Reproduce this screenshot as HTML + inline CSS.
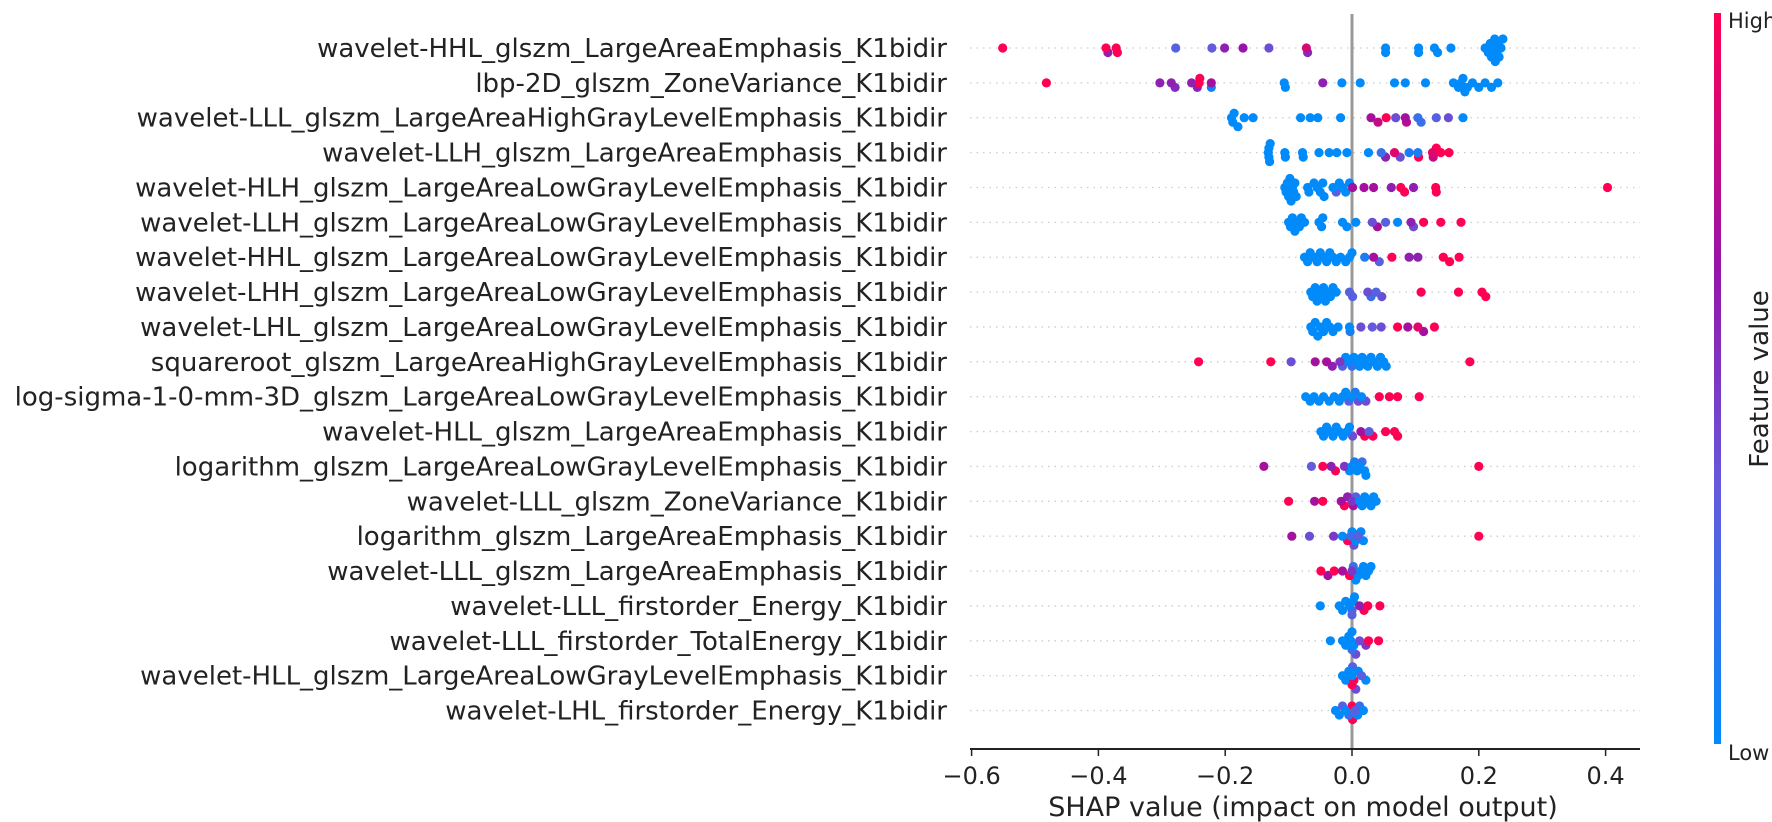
<!DOCTYPE html>
<html><head><meta charset="utf-8">
<style>
html,body{margin:0;padding:0;background:#fff;}
svg{display:block;font-family:"DejaVu Sans","Liberation Sans",sans-serif;}
</style></head>
<body>
<svg id="chart" width="1772" height="822" viewBox="0 0 1772 822">
<defs>
<linearGradient id="cbar" x1="0" y1="1" x2="0" y2="0">
<stop offset="0" stop-color="rgb(0,138,250)"/>
<stop offset="0.35" stop-color="rgb(100,90,220)"/>
<stop offset="0.65" stop-color="rgb(150,20,170)"/>
<stop offset="1" stop-color="rgb(255,0,82)"/>
</linearGradient>
</defs>
<g id="grid"></g>
<line x1="1352" y1="14" x2="1352" y2="749" stroke="#999" stroke-width="3"/>
<g id="dots"></g>
<g id="labels"></g>
<g id="xaxis"></g>
<text x="1303" y="816" font-size="27" text-anchor="middle" fill="#222">SHAP value (impact on model output)</text>
<rect x="1714" y="13" width="7" height="731" fill="url(#cbar)"/>
<text x="1728" y="28" font-size="21" fill="#222">High</text>
<text x="1728" y="760" font-size="21" fill="#222">Low</text>
<text x="1768" y="379" font-size="26" fill="#222" text-anchor="middle" transform="rotate(-90 1768 379)">Feature value</text>
</svg>
<script>
const features = [
"wavelet-HHL_glszm_LargeAreaEmphasis_K1bidir",
"lbp-2D_glszm_ZoneVariance_K1bidir",
"wavelet-LLL_glszm_LargeAreaHighGrayLevelEmphasis_K1bidir",
"wavelet-LLH_glszm_LargeAreaEmphasis_K1bidir",
"wavelet-HLH_glszm_LargeAreaLowGrayLevelEmphasis_K1bidir",
"wavelet-LLH_glszm_LargeAreaLowGrayLevelEmphasis_K1bidir",
"wavelet-HHL_glszm_LargeAreaLowGrayLevelEmphasis_K1bidir",
"wavelet-LHH_glszm_LargeAreaLowGrayLevelEmphasis_K1bidir",
"wavelet-LHL_glszm_LargeAreaLowGrayLevelEmphasis_K1bidir",
"squareroot_glszm_LargeAreaHighGrayLevelEmphasis_K1bidir",
"log-sigma-1-0-mm-3D_glszm_LargeAreaLowGrayLevelEmphasis_K1bidir",
"wavelet-HLL_glszm_LargeAreaEmphasis_K1bidir",
"logarithm_glszm_LargeAreaLowGrayLevelEmphasis_K1bidir",
"wavelet-LLL_glszm_ZoneVariance_K1bidir",
"logarithm_glszm_LargeAreaEmphasis_K1bidir",
"wavelet-LLL_glszm_LargeAreaEmphasis_K1bidir",
"wavelet-LLL_firstorder_Energy_K1bidir",
"wavelet-LLL_firstorder_TotalEnergy_K1bidir",
"wavelet-HLL_glszm_LargeAreaLowGrayLevelEmphasis_K1bidir",
"wavelet-LHL_firstorder_Energy_K1bidir"];
const xTicks = [-0.6,-0.4,-0.2,0.0,0.2,0.4];
const xTickLabels = ["\u22120.6","\u22120.4","\u22120.2","0.0","0.2","0.4"];
const shapValues = [
[-0.551,-0.388,-0.385,-0.372,-0.370,-0.278,-0.221,-0.201,-0.172,-0.131,-0.072,-0.070,0.053,0.053,0.105,0.105,0.130,0.135,0.156,0.21,0.215,0.218,0.22,0.222,0.225,0.226,0.228,0.23,0.232,0.235,0.238],
[-0.482,-0.303,-0.285,-0.279,-0.253,-0.244,-0.241,-0.240,-0.222,-0.222,-0.107,-0.105,-0.046,-0.016,0.013,0.067,0.084,0.116,0.16,0.168,0.172,0.175,0.178,0.182,0.19,0.2,0.21,0.22,0.23],
[-0.19,-0.188,-0.186,-0.18,-0.17,-0.156,-0.081,-0.066,-0.054,-0.018,0.030,0.041,0.054,0.069,0.084,0.086,0.104,0.109,0.133,0.152,0.175],
[-0.131,-0.131,-0.130,-0.132,-0.129,-0.106,-0.105,-0.078,-0.077,-0.052,-0.036,-0.024,-0.008,0.026,0.046,0.053,0.067,0.076,0.09,0.104,0.105,0.127,0.133,0.14,0.153,0.128],
[-0.106,-0.104,-0.102,-0.1,-0.098,-0.096,-0.094,-0.092,-0.09,-0.088,-0.07,-0.068,-0.06,-0.055,-0.05,-0.046,-0.044,-0.03,-0.025,-0.02,-0.015,-0.01,-0.004,0.001,0.019,0.034,0.062,0.077,0.083,0.097,0.132,0.133,0.403],
[-0.1,-0.097,-0.094,-0.09,-0.087,-0.083,-0.08,-0.075,-0.052,-0.048,-0.046,-0.015,-0.008,0.006,0.032,0.04,0.053,0.072,0.093,0.097,0.113,0.14,0.172],
[-0.075,-0.07,-0.066,-0.06,-0.055,-0.05,-0.045,-0.04,-0.035,-0.03,-0.025,-0.018,-0.01,-0.004,0.0,0.02,0.034,0.043,0.063,0.09,0.104,0.144,0.154,0.169],
[-0.065,-0.062,-0.058,-0.055,-0.052,-0.048,-0.045,-0.042,-0.038,-0.034,-0.03,-0.025,-0.004,0.001,0.025,0.03,0.038,0.047,0.109,0.168,0.205,0.211],
[-0.065,-0.062,-0.058,-0.054,-0.05,-0.045,-0.04,-0.035,-0.03,-0.022,-0.004,-0.003,0.014,0.032,0.046,0.072,0.088,0.104,0.113,0.13],
[-0.242,-0.128,-0.096,-0.058,-0.04,-0.031,-0.019,-0.015,-0.01,-0.005,0.0,0.003,0.008,0.012,0.016,0.02,0.025,0.03,0.035,0.04,0.045,0.05,0.054,0.186],
[-0.073,-0.066,-0.06,-0.052,-0.045,-0.036,-0.028,-0.02,-0.015,-0.01,-0.005,0.0,0.005,0.01,0.015,0.022,0.043,0.059,0.072,0.106],
[-0.049,-0.045,-0.04,-0.035,-0.03,-0.025,-0.02,-0.014,-0.008,-0.004,0.001,0.014,0.02,0.027,0.033,0.053,0.067,0.072],
[-0.139,-0.064,-0.046,-0.033,-0.026,-0.012,-0.004,0.0,0.004,0.008,0.012,0.016,0.02,0.022,0.2],
[-0.10,-0.059,-0.046,-0.017,-0.012,-0.007,0.0,0.002,0.006,0.012,0.016,0.02,0.025,0.03,0.034,0.038],
[-0.095,-0.067,-0.029,-0.015,-0.007,-0.002,0.0,0.003,0.006,0.01,0.014,0.018,0.2],
[-0.049,-0.038,-0.028,-0.015,-0.004,0.0,0.002,0.006,0.01,0.014,0.018,0.022,0.026,0.03],
[-0.05,-0.02,-0.015,-0.01,-0.004,0.0,0.0,0.002,0.004,0.012,0.019,0.025,0.044],
[-0.034,-0.015,-0.01,-0.005,-0.002,0.0,0.0,0.003,0.006,0.012,0.022,0.026,0.042],
[-0.015,-0.01,-0.005,0.0,0.0,0.001,0.003,0.006,0.01,0.015,0.022],
[-0.026,-0.02,-0.015,-0.01,-0.005,0.0,0.001,0.005,0.009,0.012,0.018]];
const featureLevels = [
[1,1,0.6,1,1,0.3,0.35,0.6,0.65,0.4,0.85,0.55,0,0,0,0,0,0,0,0,0,0,0,0,0,0,0,0,0,0,0],
[1,0.6,0.6,0.55,0.6,0.6,1,1,0.7,0.05,0,0,0.6,0,0,0,0,0,0,0,0,0,0,0,0,0,0,0,0],
[0,0,0,0,0,0,0,0,0,0,0.7,0.8,1,0.4,0.7,0.75,0.2,0.2,0.3,0.4,0],
[0,0,0,0,0,0,0,0,0,0,0,0,0,0,0.2,0.6,0.9,0.4,0.1,0.1,1,0.9,1,1,1,0.8],
[0,0,0,0,0,0,0,0,0,0,0,0,0,0,0,0,0,0,0.3,0,0,0,0,0.7,0.7,0.7,0.6,1,1,0.6,1,1,1],
[0,0,0,0,0,0,0,0,0,0,0,0,0,0,0.4,0.7,0.3,0,0.6,0.4,1,1,1],
[0,0,0,0,0,0,0,0,0,0,0,0,0,0,0,0.1,0.7,0.3,1,0.6,0.6,1,1,1],
[0,0,0,0,0,0,0,0,0,0,0,0,0.3,0.3,0.4,0.2,0.3,0.4,1,1,1,1],
[0,0,0,0,0,0,0,0,0,0,0,0.1,0.4,0.35,0.4,1,0.7,0.9,0.7,1],
[1,1,0.4,0.7,0.7,0.6,0.5,0.3,0,0,0.2,0,0,0,0,0,0,0,0,0,0,0,0,1],
[0,0,0,0,0,0,0,0,0,0,0.3,0,0.1,0.4,0,0.4,1,1,1,1],
[0,0,0,0,0,0,0,0,0,0,0.4,0.7,1,0.3,1,1,1,1],
[0.7,0.35,1,0.6,1,0.5,0,0,0.1,0,0,0.2,0,0,1],
[1,0.7,1,0.7,1,0.6,0.5,0.7,0.3,0,0,0,0,0,0,0],
[0.7,0.4,0.5,0,1,0.2,0,0.4,0,0.3,0,0,1],
[1,0.7,1,0.7,1,0.5,0.2,0,0,0,0,0,0,0],
[0,0,0,0,0,0.3,0.3,0,0,0.6,1,1,1],
[0,0,0,0,0,0.2,0,0,0.4,0.4,0.5,1,1],
[0,0,0,0,1,0.3,1,0.4,0,0.3,0],
[0,0,0.3,0,0.2,1,1,0.3,0,0.2,0]];

const NS = "http://www.w3.org/2000/svg";
const x0 = 972, x1 = 1606;
function xScale(v){ return 1352 + v * (x1 - x0); }
function yRow(i){ return 48 + i * 34.87; }
function colorFor(t){
  const stops=[[0,[0,138,250]],[0.35,[100,90,220]],[0.65,[150,20,170]],[1,[255,0,82]]];
  for(let k=0;k<stops.length-1;k++){
    const a=stops[k],b=stops[k+1];
    if(t<=b[0]){const f=(t-a[0])/(b[0]-a[0]);
      return "rgb("+a[1].map((c,j)=>Math.round(c+(b[1][j]-c)*f)).join(",")+")";}
  }
  return "rgb(255,0,82)";
}
const grid=document.getElementById("grid"), dots=document.getElementById("dots"), labels=document.getElementById("labels"), xaxis=document.getElementById("xaxis");
features.forEach((name,i)=>{
  const y=yRow(i);
  const gl=document.createElementNS(NS,"line");
  gl.setAttribute("x1",970);gl.setAttribute("x2",1640);gl.setAttribute("y1",y);gl.setAttribute("y2",y);
  gl.setAttribute("stroke","#ccc");gl.setAttribute("stroke-width","1.3");gl.setAttribute("stroke-dasharray","1.5 5");
  
  
  grid.appendChild(gl);
  const t=document.createElementNS(NS,"text");
  t.setAttribute("x",947);t.setAttribute("y",y+9);t.setAttribute("text-anchor","end");
  t.setAttribute("font-size","26");t.setAttribute("fill","#222");t.textContent=name;
  
  
  labels.appendChild(t);
  const vals=shapValues[i], lv=featureLevels[i];
  const idx=vals.map((v,k)=>k).sort((a,b)=>vals[a]-vals[b]);
  const placed=[];
  const step=4.5, offs=[0,1,-1,2,-2,3,-3];
  idx.forEach(k=>{
    const px=xScale(vals[k]);
    let chosen=offs[offs.length-1];
    for(const o of offs){
      if(!placed.some(p=>p.o===o && Math.abs(p.x-px)<7.5)){chosen=o;break;}
    }
    placed.push({x:px,o:chosen,k:k});
  });
  placed.sort((a,b)=>Math.abs(b.o)-Math.abs(a.o)).forEach(p=>{
    const c=document.createElementNS(NS,"circle");
    c.setAttribute("cx",p.x.toFixed(1));c.setAttribute("cy",(y+p.o*step).toFixed(1));
    c.setAttribute("r","4.6");c.setAttribute("fill",colorFor(lv[p.k]!==undefined?lv[p.k]:0));
    
    
    dots.appendChild(c);
  });
});
const ax=document.createElementNS(NS,"line");
ax.setAttribute("x1",970);ax.setAttribute("x2",1640);ax.setAttribute("y1",749);ax.setAttribute("y2",749);
ax.setAttribute("stroke","#222");ax.setAttribute("stroke-width","2");


xaxis.appendChild(ax);
xTicks.forEach((v,k)=>{
  const x=xScale(v);
  const tk=document.createElementNS(NS,"line");
  tk.setAttribute("x1",x);tk.setAttribute("x2",x);tk.setAttribute("y1",749);tk.setAttribute("y2",756);
  tk.setAttribute("stroke","#222");tk.setAttribute("stroke-width","1.5");
  
  
  xaxis.appendChild(tk);
  const tl=document.createElementNS(NS,"text");
  tl.setAttribute("x",x);tl.setAttribute("y",784);tl.setAttribute("text-anchor","middle");
  tl.setAttribute("font-size","24");tl.setAttribute("fill","#222");tl.textContent=xTickLabels[k];
  
  
  xaxis.appendChild(tl);
});
</script>
</body></html>
